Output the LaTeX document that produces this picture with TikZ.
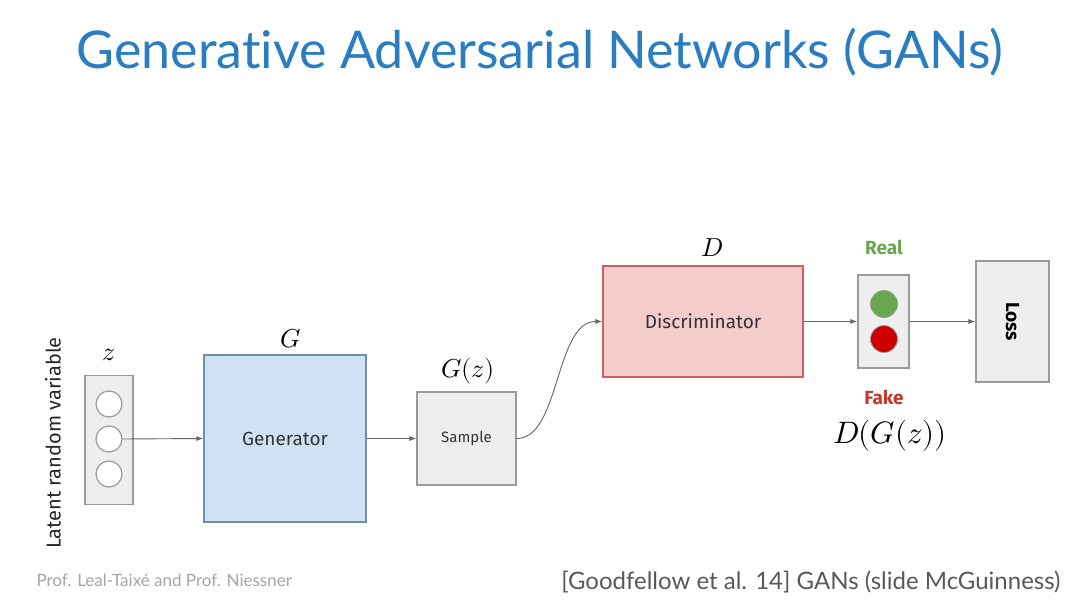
\documentclass[tikz,border=0pt]{standalone}
\usepackage{fontspec}
\usepackage{unicode-math}
\setmainfont{Fira Sans}
\setmathfont{Latin Modern Math}
\newfontfamily\titlefont[Ligatures=NoCommon]{Lato}
\usetikzlibrary{arrows.meta}
\definecolor{titleblue}{HTML}{2A7DC0}
\definecolor{boxgray}{HTML}{EEEEEE}
\definecolor{edgegray}{HTML}{9A9A9A}
\definecolor{genfill}{HTML}{CFE2F3}
\definecolor{genedge}{HTML}{6F8FAF}
\definecolor{discfill}{HTML}{F4CCCC}
\definecolor{discedge}{HTML}{D06060}
\definecolor{realgreen}{HTML}{6AA84F}
\definecolor{fakered}{HTML}{CC0000}
\definecolor{realtext}{HTML}{6AA84F}
\definecolor{faketext}{HTML}{C0392B}
\tikzset{
  blockbox/.style={draw=edgegray, fill=boxgray, line width=1.2pt, inner sep=0pt},
  unitdot/.style={circle, draw=edgegray, fill=white, line width=1.2pt, minimum size=26pt, inner sep=0pt},
  flow/.style={draw=black!60, line width=0.9pt, -{Latex[length=7pt,width=5pt]}},
  mathlabel/.style={font=\fontsize{26}{30}\selectfont}
}
\begin{document}
\begin{tikzpicture}[x=1pt, y=-1pt]
\useasboundingbox (0,0) rectangle (1080,608);
\fill[white] (0,0) rectangle (1080,608);
% title
\node[text=titleblue, font=\titlefont\fontsize{52}{60}\selectfont] (title) at (540,52) {Generative Adversarial Networks (GANs)};
% latent vector
\node[blockbox, minimum width=48pt, minimum height=129pt] (zbox) at (109,440) {};
\node[unitdot] (z1) at (109,404) {};
\node[unitdot] (z2) at (109,439) {};
\node[unitdot] (z3) at (109,474) {};
\node[mathlabel] (zlab) at (109,355) {$z$};
\node[rotate=90, font=\fontsize{20}{24}\selectfont, text=black!85] (latent) at (53,443) {Latent random variable};
% generator
\node[draw=genedge, fill=genfill, line width=1.2pt, minimum width=162pt, minimum height=167pt, font=\fontsize{19}{22}\selectfont, text=black!80] (gen) at (285,438.5) {Generator};
\node[mathlabel] (glab) at (291,339) {$G$};
% sample
\node[blockbox, minimum width=99pt, minimum height=93pt, font=\fontsize{15}{18}\selectfont, text=black!80] (sample) at (466.5,438.5) {Sample};
\node[mathlabel] (gzlab) at (468,371) {$G(z)$};
% discriminator
\node[draw=discedge, fill=discfill, line width=1.2pt, minimum width=200pt, minimum height=111pt, font=\fontsize{19}{22}\selectfont, text=black!80] (disc) at (703,321.5) {Discriminator};
\node[mathlabel] (dlab) at (712,248) {$D$};
% real / fake
\node[blockbox, minimum width=51pt, minimum height=93pt] (light) at (883.5,321.5) {};
\node[circle, draw=edgegray, fill=realgreen, line width=0.8pt, minimum size=27pt, inner sep=0pt] (real) at (884,304) {};
\node[circle, draw=edgegray, fill=fakered, line width=0.8pt, minimum size=27pt, inner sep=0pt] (fake) at (884,339) {};
\node[text=realtext, font=\fontsize{19}{22}\selectfont\fontseries{sb}\selectfont] (reallab) at (884,247) {Real};
\node[text=faketext, font=\fontsize{19}{22}\selectfont\fontseries{sb}\selectfont] (fakelab) at (884,397) {Fake};
\node[font=\fontsize{31}{36}\selectfont] (dgzlab) at (890,436) {$D(G(z))$};
% loss
\node[blockbox, minimum width=73pt, minimum height=121pt] (loss) at (1012.5,321.5) {};
\node[rotate=-90, font=\fontsize{19}{22}\selectfont\bfseries] (losslab) at (loss.center) {Loss};
% connectors
\draw[flow] (z2.east) -- (gen.west);
\draw[flow] (gen.east) -- (sample.west);
\draw[flow] (sample.east) .. controls (560,439) and (555,321) .. (disc.west);
\draw[flow] (disc.east) -- (light.west);
\draw[flow] (light.east) -- (loss.west);
% footer
\node[anchor=west, text=black!35, font=\titlefont\fontsize{17}{20}\selectfont] (credit) at (33,580) {Prof. Leal-Taixé and Prof. Niessner};
\node[anchor=east, text=black!65, font=\titlefont\fontsize{24}{28}\selectfont] (source) at (1064,582) {[Goodfellow et al. 14] GANs (slide McGuinness)};
\end{tikzpicture}
\end{document}
